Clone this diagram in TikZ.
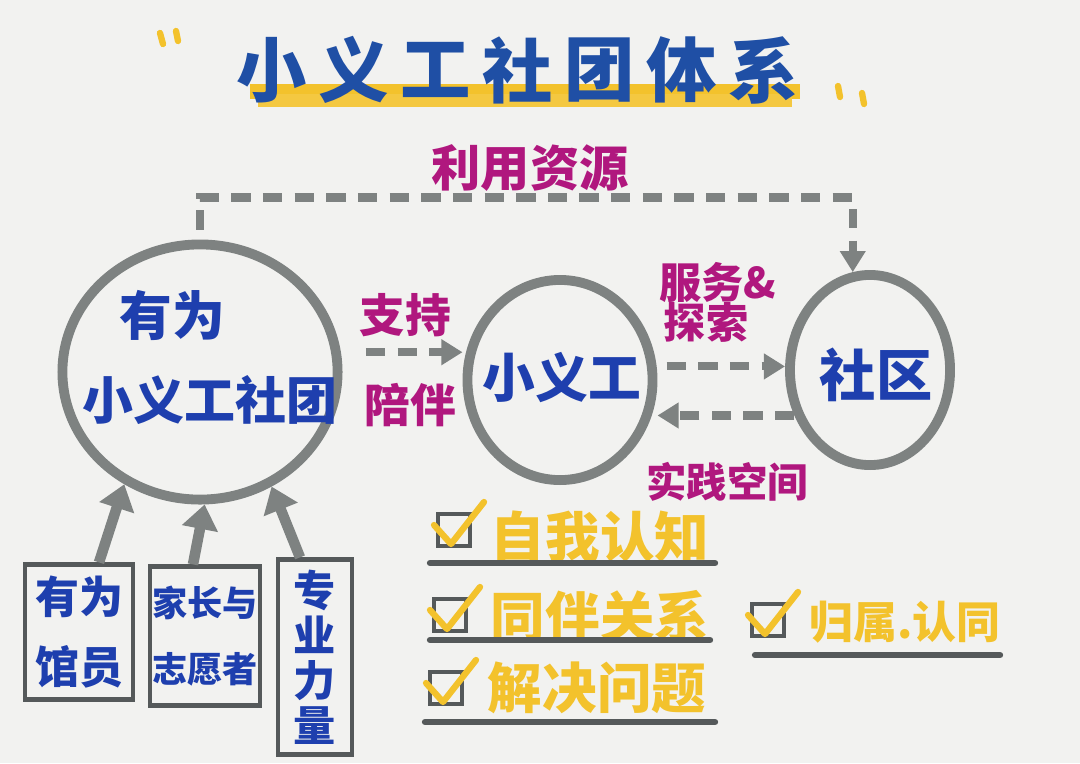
\documentclass[tikz,border=0pt]{standalone}
\usepackage{fontspec}
\setmainfont{Noto Sans CJK SC}
\usepackage{xcolor}
\usetikzlibrary{shapes.geometric, arrows.meta, positioning, calc}

\definecolor{inkblue}{HTML}{1E3FAE}
\definecolor{titleblue}{HTML}{1F4FA5}
\definecolor{inkmag}{HTML}{B0177E}
\definecolor{inkyellow}{HTML}{F3C22C}
\definecolor{inkgray}{HTML}{7E8281}
\definecolor{boxgray}{HTML}{55595A}
\definecolor{paper}{HTML}{F2F2F0}

\newcommand{\fsz}[1]{\bfseries\fontsize{#1}{#1}\selectfont}

\tikzset{
  ring/.style={ellipse, draw=inkgray, line width=2.8pt, inner sep=0pt},
  flow/.style={inkgray, line width=2.3pt, dash pattern=on 5.5pt off 3.5pt,
    -{Triangle[width=7pt,length=6pt]}},
  feed/.style={inkgray, line width=3pt, -{Triangle[width=10pt,length=7pt]}},
  bluetext/.style={text=inkblue, inner sep=0pt},
  magtext/.style={text=inkmag, inner sep=0pt},
  source/.style={draw=boxgray, line width=1.2pt, inner sep=0pt, align=center, text=inkblue},
  checkbox/.style={draw=boxgray, line width=1.4pt, minimum size=0.32cm, inner sep=0pt},
  tick/.style={inkyellow, line width=1.8pt, line cap=round, line join=round},
  underline/.style={boxgray, line width=1.8pt, line cap=round},
  gain/.style={text=inkyellow, inner sep=0pt, font=\fsz{15.5}}
}

\begin{document}
\begin{tikzpicture}[x=0.01cm, y=-0.01cm]
\useasboundingbox (0,0) rectangle (1080,763);
\fill[paper] (0,0) rectangle (1080,763);

% title with highlight
\fill[inkyellow] (250,84) rectangle (800,99);
\fill[inkyellow!90!white] (258,94) rectangle (792,107);
\foreach \ch [count=\i] in {小,义,工,社,团,体,系}
  \node[text=titleblue, font=\fsz{20}, inner sep=0pt] (title\i) at ({190+82*\i},70) {\ch};
\draw[tick] (160,33) -- (163,44);
\draw[tick] (176,31) -- (178,41);
\draw[tick] (838,86) -- (840,97);
\draw[tick] (862,93) -- (864,104);

% the three circles
\node[ring, minimum width=2.75cm, minimum height=2.55cm] (club) at (200,372) {};
\node[ring, minimum width=1.85cm, minimum height=2.0cm] (kid) at (560,380) {};
\node[ring, minimum width=1.6cm, minimum height=1.9cm] (comm) at (870,370) {};

\node[bluetext, font=\fsz{15}] (clubtop) at (172,315) {有为};
\node[bluetext, font=\fsz{14.5}] (clubname) at (210,400) {小义工社团};
\node[bluetext, font=\fsz{15}] (kidname) at (562,378) {小义工};
\node[bluetext, font=\fsz{16}] (commname) at (876,375) {社区};

% dashed flows
\draw[flow, shorten <=0.1cm] (club.north) -- ++(0,-42) -| (comm.100);
\draw[flow, shorten <=0.25cm] (club.8) -- (kid.west |- club.8);
\draw[flow, shorten <=0.1cm] (kid.8) -- (comm.west |- kid.8);
\draw[flow] (comm.211) -- (kid.east |- comm.211);

\node[magtext, font=\fsz{14}] (ziyuan) at (530,168) {利用资源};
\node[magtext, font=\fsz{13}] (zhichi) at (405,315) {支持};
\node[magtext, font=\fsz{13}] (peiban) at (410,405) {陪伴};
\node[magtext, font=\fsz{12}] (fuwu) at (718,282) {服务\&};
\node[magtext, font=\fsz{12}] (tansuo) at (706,322) {探索};
\node[magtext, font=\fsz{11.5}] (shijian) at (727,482) {实践空间};

% supporting forces
\node[source, minimum width=1.08cm, minimum height=1.35cm,
  font=\bfseries\fontsize{12.5}{20}\selectfont] (guanyuan) at (79,632) {有为\\馆员};
\node[source, minimum width=1.1cm, minimum height=1.39cm,
  font=\bfseries\fontsize{10}{19}\selectfont] (jiazhang) at (205,636) {家长与\\志愿者};
\node[source, minimum width=0.74cm, minimum height=1.95cm,
  font=\bfseries\fontsize{12}{12.8}\selectfont] (zhuanye) at (315,657) {专\\业\\力\\量};

\draw[feed] ([xshift=0.2cm]guanyuan.north) -- (club.236);
\draw[feed] ([xshift=-0.12cm]jiazhang.north) -- (club.272);
\draw[feed] ([xshift=-0.15cm]zhuanye.north) -- (club.302);

% gains checklist
\node[checkbox] (cb1) at (454,530) {};
\node[checkbox] (cb2) at (450,615) {};
\node[checkbox] (cb3) at (446,688) {};
\node[checkbox] (cb4) at (768,620) {};
\node[gain] (gain1) at (600,537) {自我认知};
\node[gain] (gain2) at (600,617) {同伴关系};
\node[gain] (gain3) at (597,688) {解决问题};
\node[gain, font=\fsz{12.5}] (gain4) at (905,622) {归属.认同};
\foreach \b in {cb1,cb2,cb3,cb4}
  \draw[tick] ($(\b)+(-20,-5)$) -- ($(\b)+(-3,14)$) -- ($(\b)+(30,-28)$);

\draw[underline] (430,563) -- (715,563);
\draw[underline] (430,640) -- (710,640);
\draw[underline] (425,722) -- (715,722);
\draw[underline] (755,655) -- (1000,655);
\end{tikzpicture}
\end{document}
